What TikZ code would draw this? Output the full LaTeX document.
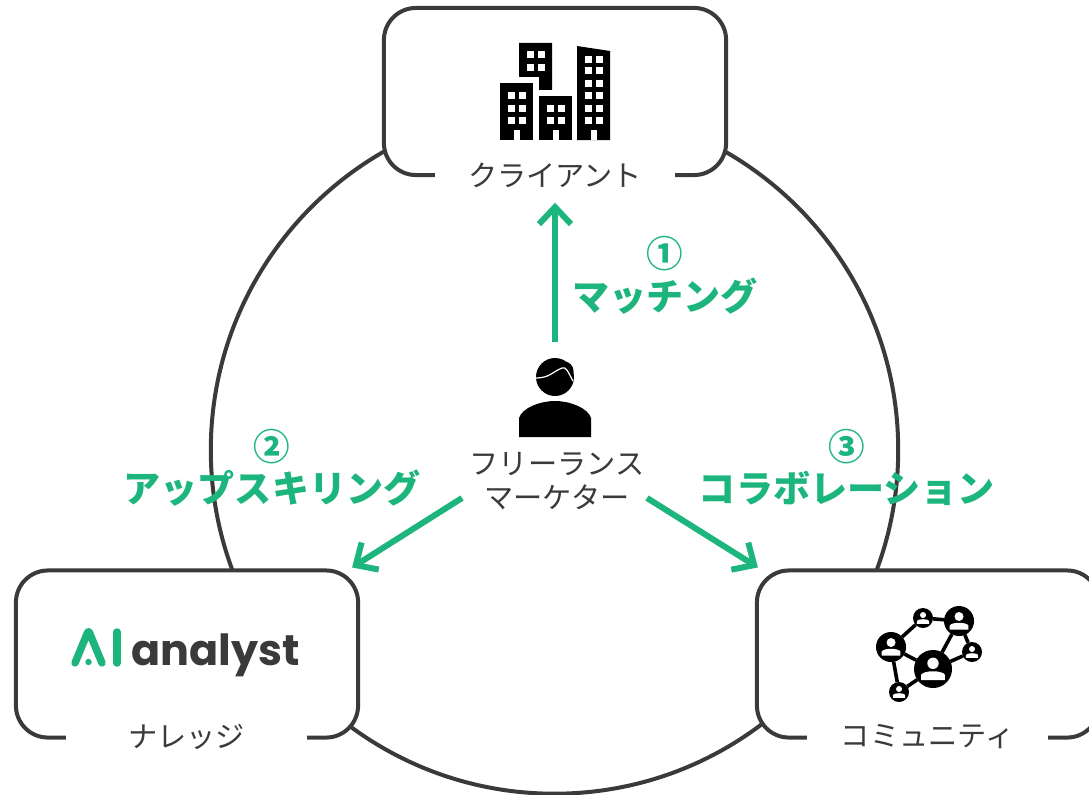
\documentclass[tikz,border=0pt]{standalone}
\usepackage{fontspec}
\setmainfont{Noto Sans CJK JP}
\newfontfamily\logofont{Poppins}
\usetikzlibrary{arrows.meta,positioning,calc}
\definecolor{markgreen}{RGB}{29,181,126}
\definecolor{inkgray}{RGB}{58,58,58}

\begin{document}
\begin{tikzpicture}[
        x=0.01cm, y=-0.01cm,
        panel/.style={rectangle, draw=inkgray, fill=white, line width=0.04cm, rounded corners=0.32cm, minimum width=3.42cm, minimum height=1.67cm, outer sep=0pt},
        caption/.style={fill=white, text=inkgray, font=\fontsize{8.3}{9.6}\selectfont, minimum width=2.4cm, minimum height=0.3cm, inner sep=0pt, align=center},
        stepnum/.style={text=markgreen, font=\fontsize{10.4}{12}\selectfont\bfseries, inner sep=0pt},
        steplabel/.style={text=markgreen, font=\fontsize{10.55}{12}\selectfont\bfseries, inner sep=0pt},
        arrow/.style={-{Straight Barb[length=0.17cm, width=0.32cm, line width=0.06cm]}, line width=0.06cm, markgreen},
        netnode/.style={circle, fill=black, inner sep=0pt, outer sep=0pt}
    ]
        \clip (0,0) rectangle (1089,794);

        % Ring
        \node[circle, draw=inkgray, line width=0.04cm, minimum size=6.87cm, outer sep=0pt] (ring) at (554.5,450) {};

        % Panels
        \node[panel] (client) at (555,91.5) {};
        \node[caption, anchor=center] (clientcap) at (555,175) {クライアント};
        \node[panel] (analyst) at (187,654) {};
        \node[caption] (analystcap) at (186.5,737) {ナレッジ};
        \node[panel] (community) at (928,654) {};
        \node[caption] (communitycap) at (927.5,737) {コミュニティ};

        % Buildings
        \fill[black] (519,43) -- (552,43) -- (552,90) -- (539,90) -- (539,77) -- (519,77) -- cycle;
        \fill[black] (500,83) rectangle (533,140);
        \fill[black] (539,96) rectangle (572,140);
        \fill[black] (577,46) -- (610,51) -- (610,140) -- (577,140) -- cycle;
        \foreach \wx/\wy in {527/52,538/52,527/65,538/65,
                             508/93,519/93,508/106,519/106,508/118,519/118,
                             547/106,558/106,547/118,558/118,
                             585/57,596/57,585/68,596/68,585/81,596/81,585/93,596/93,585/106,596/106,585/118,596/118}
            \fill[white] (\wx-0.5,\wy-0.5) rectangle ++(7,7);
        \foreach \wx in {513.5,552.5,591}
            \fill[white] (\wx,130) rectangle ++(6,10);

        % Freelancer
        \node[minimum width=0.72cm, minimum height=0.94cm, inner sep=0pt] (person) at (555,390) {};
        \fill[black] (555,377) circle (19);
        \fill[black] (564,371) circle (9.5);
        \draw[white, line width=0.012cm] (535,378) .. controls (550,378) and (552,372) .. (562,368) .. controls (566,366) and (568,372) .. (573,381);
        \fill[black] (519,437) -- (519,418) .. controls (522,408) and (540,401) .. (555,401) .. controls (570,401) and (588,408) .. (591,418) -- (591,437) -- cycle;
        \node[text=inkgray, font=\fontsize{8.3}{9.6}\selectfont, align=center, inner sep=0pt] (freelancer) at (557,481) {フリーランス\\マーケター};

        % Logo
        \draw[markgreen, line width=0.075cm, line cap=round, line join=round] (75,663) -- (87,634) .. controls (88,631) and (89,631) .. (90,634) -- (102,663);
        \fill[markgreen] (88.5,662) circle (3.2);
        \draw[markgreen, line width=0.075cm, line cap=round] (117,632) -- (117,663);
        \node[text=inkgray, font=\logofont\fontsize{12.2}{14}\selectfont\bfseries, inner sep=0pt, anchor=base west] (analystlogo) at (131,665) {analyst};

        % Network
        \foreach \n/\nx/\ny/\nr in {na/891/647/15, nb/923/618/10, nc/959/621/15, nd/972/652/10, ne/933/669/19, nf/899/692/10}
            \node[netnode, minimum size=\nr*0.02cm] (\n) at (\nx,\ny) {};
        \foreach \p/\q in {na/nb, nb/nc, nc/ne, nc/nd, nd/ne, na/ne, na/nf, nf/ne}
            \draw[black, line width=0.036cm] (\p) -- (\q);
        \foreach \n/\nx/\ny/\nr in {na/891/647/15, nb/923/618/10, nc/959/621/15, nd/972/652/10, ne/933/669/19, nf/899/692/10} {
            \fill[white] (\nx,\ny-0.3*\nr) circle (0.3*\nr);
            \fill[white] (\nx-0.62*\nr,\ny+0.58*\nr) -- (\nx-0.62*\nr,\ny+0.3*\nr) .. controls (\nx-0.5*\nr,\ny+0.06*\nr) and (\nx+0.5*\nr,\ny+0.06*\nr) .. (\nx+0.62*\nr,\ny+0.3*\nr) -- (\nx+0.62*\nr,\ny+0.58*\nr) -- cycle;
        }

        % Step labels
        \node[stepnum] (num1) at (665,254) {①};
        \node[steplabel] (step1) at (665,296) {マッチング};
        \node[stepnum] (num2) at (272,447) {②};
        \node[steplabel] (step2) at (272,488) {アップスキリング};
        \node[stepnum] (num3) at (847,447) {③};
        \node[steplabel] (step3) at (847,488) {コラボレーション};

        % Arrows
        \coordinate (startl) at (462,498);
        \coordinate (startr) at (647,498);
        \draw[arrow, shorten >=0.12cm] (person.north) -- (clientcap.south);
        \draw[arrow] (startl) -- ([xshift=-0.06cm,yshift=0.03cm]analyst.north east);
        \draw[arrow] (startr) -- ([xshift=0.01cm,yshift=0.03cm]community.north west);
    \end{tikzpicture}
\end{document}
